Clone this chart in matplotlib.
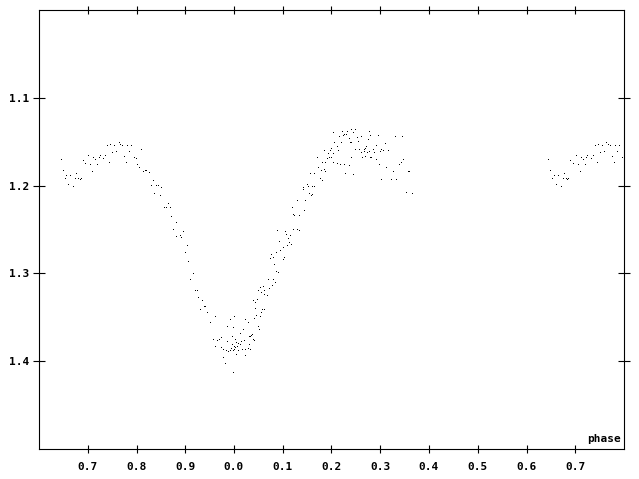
import matplotlib
matplotlib.use('Agg')
import matplotlib.pyplot as plt
import numpy as np

phase = [0.645, 0.649, 0.656, 0.653, 0.664, 0.660, 0.670, 0.676, 0.674, 0.680,
         0.684, 0.686, 0.690, 0.695, 0.701, 0.705, 0.709, 0.711, 0.715, 0.719,
         0.723, 0.725, 0.732, 0.736, 0.740, 0.744, 0.746, 0.750, 0.754, 0.758,
         0.764, 0.767, 0.771, 0.775, 0.779, 0.781, 0.785, 0.789, 0.795, 0.799,
         0.801, 0.806, 0.810, 0.814, 0.818, 0.820, 0.826, 0.834, 0.830, 0.841,
         0.845, 0.851, 0.836, 0.849, 0.865, 0.861, 0.857, 0.869, 0.871, 0.882,
         0.875, 0.896, 0.880, 0.890, 0.892, 0.904, 0.900, 0.906, 0.915, 0.910,
         0.921, 0.925, 0.927, 0.935, 0.939, 0.941, 0.931, 0.945, 0.962, 0.951,
         0.999, 0.991, 0.023, 0.028, 0.986, 0.998, 0.019, 0.013, 0.995, 0.956,
         0.966, 0.970, 0.974, 0.960, 0.986, 0.003, 0.005, 0.009, 0.015, 0.021,
         0.995, 0.999, 0.007, 0.013, 0.974, 0.993, 0.003, 0.984, 0.988, 0.991,
         0.997, 0.999, 0.017, 0.023, 0.009, 0.978, 0.005, 0.023, 0.978, 0.982,
         0.997, 0.028, 0.032, 0.030, 0.032, 0.034, 0.036, 0.038, 0.040, 0.030,
         0.038, 0.040, 0.046, 0.044, 0.044, 0.048, 0.050, 0.054, 0.050, 0.052,
         0.056, 0.054, 0.056, 0.058, 0.062, 0.067, 0.060, 0.062, 0.069, 0.130,
         0.118, 0.120, 0.124, 0.134, 0.120, 0.122, 0.130, 0.134, 0.089, 0.104,
         0.106, 0.114, 0.110, 0.093, 0.112, 0.116, 0.108, 0.100, 0.095, 0.087,
         0.075, 0.079, 0.073, 0.102, 0.100, 0.083, 0.087, 0.091, 0.081, 0.085,
         0.077, 0.071, 0.062, 0.141, 0.141, 0.149, 0.151, 0.161, 0.165, 0.153,
         0.157, 0.159, 0.145, 0.143, 0.155, 0.165, 0.176, 0.180, 0.173, 0.184,
         0.178, 0.186, 0.180, 0.186, 0.204, 0.211, 0.217, 0.225, 0.171, 0.190,
         0.194, 0.198, 0.192, 0.204, 0.184, 0.196, 0.200, 0.211, 0.213, 0.206,
         0.219, 0.215, 0.223, 0.204, 0.221, 0.225, 0.229, 0.227, 0.231, 0.241,
         0.248, 0.245, 0.252, 0.260, 0.235, 0.237, 0.239, 0.254, 0.274, 0.276,
         0.280, 0.295, 0.330, 0.344, 0.291, 0.309, 0.248, 0.256, 0.268, 0.270,
         0.266, 0.260, 0.266, 0.272, 0.276, 0.287, 0.285, 0.301, 0.299, 0.305,
         0.315, 0.262, 0.268, 0.278, 0.282, 0.241, 0.291, 0.297, 0.235, 0.311,
         0.346, 0.342, 0.338, 0.326, 0.358, 0.356, 0.245, 0.301, 0.322, 0.332,
         0.352, 0.365]

mag = [1.171, 1.183, 1.189, 1.193, 1.189, 1.199, 1.202, 1.187, 1.193, 1.193,
       1.194, 1.192, 1.172, 1.175, 1.166, 1.177, 1.184, 1.169, 1.171, 1.176,
       1.168, 1.166, 1.170, 1.166, 1.155, 1.174, 1.154, 1.163, 1.155, 1.162,
       1.151, 1.154, 1.155, 1.167, 1.174, 1.155, 1.162, 1.155, 1.169, 1.170,
       1.177, 1.180, 1.160, 1.185, 1.183, 1.183, 1.186, 1.195, 1.201, 1.201,
       1.200, 1.203, 1.210, 1.212, 1.221, 1.225, 1.226, 1.226, 1.236, 1.243,
       1.250, 1.253, 1.258, 1.257, 1.260, 1.269, 1.277, 1.287, 1.301, 1.307,
       1.320, 1.320, 1.328, 1.332, 1.338, 1.338, 1.342, 1.345, 1.350, 1.357,
       1.350, 1.353, 1.353, 1.356, 1.361, 1.362, 1.365, 1.369, 1.372, 1.376,
       1.377, 1.376, 1.374, 1.384, 1.378, 1.376, 1.379, 1.380, 1.378, 1.377,
       1.382, 1.384, 1.384, 1.382, 1.385, 1.386, 1.385, 1.388, 1.389, 1.388,
       1.388, 1.387, 1.387, 1.387, 1.388, 1.387, 1.393, 1.394, 1.396, 1.403,
       1.413, 1.386, 1.387, 1.381, 1.373, 1.371, 1.370, 1.376, 1.377, 1.372,
       1.332, 1.352, 1.348, 1.334, 1.340, 1.330, 1.320, 1.317, 1.361, 1.364,
       1.322, 1.350, 1.345, 1.342, 1.325, 1.326, 1.315, 1.320, 1.307, 1.218,
       1.226, 1.234, 1.235, 1.235, 1.251, 1.250, 1.250, 1.252, 1.252, 1.253,
       1.256, 1.257, 1.261, 1.264, 1.265, 1.268, 1.269, 1.271, 1.275, 1.277,
       1.279, 1.282, 1.284, 1.283, 1.285, 1.291, 1.298, 1.299, 1.307, 1.311,
       1.314, 1.318, 1.342, 1.203, 1.205, 1.199, 1.202, 1.202, 1.202, 1.209,
       1.212, 1.211, 1.218, 1.229, 1.187, 1.187, 1.193, 1.195, 1.180, 1.182,
       1.183, 1.184, 1.174, 1.174, 1.174, 1.175, 1.177, 1.177, 1.169, 1.170,
       1.169, 1.168, 1.164, 1.164, 1.161, 1.161, 1.158, 1.156, 1.161, 1.152,
       1.151, 1.145, 1.144, 1.140, 1.139, 1.142, 1.142, 1.187, 1.139, 1.137,
       1.137, 1.140, 1.146, 1.145, 1.147, 1.152, 1.152, 1.150, 1.148, 1.139,
       1.144, 1.143, 1.145, 1.145, 1.155, 1.153, 1.159, 1.160, 1.158, 1.156,
       1.160, 1.163, 1.162, 1.163, 1.162, 1.163, 1.160, 1.160, 1.162, 1.161,
       1.161, 1.168, 1.167, 1.168, 1.169, 1.169, 1.171, 1.176, 1.178, 1.180,
       1.171, 1.174, 1.177, 1.185, 1.185, 1.184, 1.188, 1.194, 1.194, 1.194,
       1.208, 1.209]

xticks = [0.7, 0.8, 0.9, 1.0, 1.1, 1.2, 1.3, 1.4, 1.5, 1.6, 1.7]
yticks = [1.1, 1.2, 1.3, 1.4]

font = {'family': 'DejaVu Sans Mono', 'weight': 'bold', 'size': 8}

fig = plt.figure(figsize=(6.39, 4.79), dpi=100)
ax = fig.add_axes([39 / 639, 30 / 479, 585 / 639, 439 / 479])

p = np.array(phase)
m = np.array(mag)
# folded curve drawn twice, one cycle apart
ax.plot(p, m, ',', color='black')
ax.plot(p + 1, m, ',', color='black')

ax.set_xlim(0.6, 1.8)
ax.set_ylim(1.5, 1.0)

ax.set_xticks(xticks)
ax.set_xticklabels([f'{t % 1:.1f}' for t in xticks], fontdict=font)
ax.set_yticks(yticks)
ax.set_yticklabels([f'{t:.1f}' for t in yticks], fontdict=font)
ax.tick_params(direction='inout', length=6, width=0.8, pad=6,
               top=True, right=True)
ax.tick_params(axis='y', length=8, pad=3)

for s in ax.spines.values():
    s.set_linewidth(0.8)

ax.text(0.995, 0.012, 'phase', transform=ax.transAxes, ha='right', va='bottom', fontdict=font)

fig.savefig('out.png', dpi=100)
